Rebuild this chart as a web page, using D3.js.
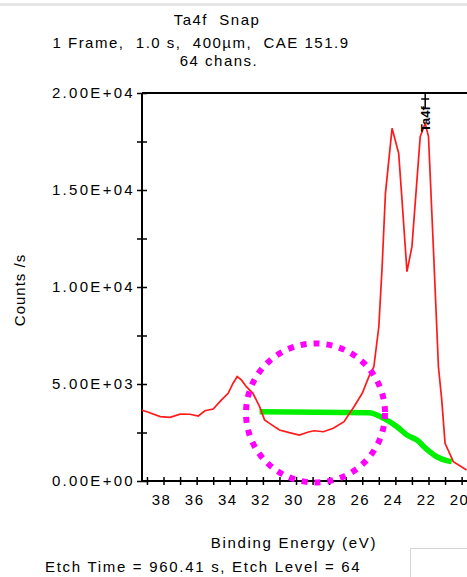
<!DOCTYPE html>
<html>
<head>
<meta charset="utf-8">
<script src="https://cdn.jsdelivr.net/npm/d3@7"></script>
<style>
  body { margin: 0; background: #fff; }
  text { font-family: "Liberation Sans", Arial, sans-serif; fill: #000; white-space: pre; }
</style>
</head>
<body>
<div id="chart"></div>
<script>
// spectrum (binding energy in eV, counts/s)
const energies = [39.3, 39.0, 38.2, 37.6, 37.0, 36.4, 35.9, 35.5, 35.0, 34.5, 34.1, 33.8, 33.55, 33.3, 33.0, 32.6, 32.2, 31.9, 31.6, 31.0, 30.4, 29.8, 29.2, 28.9, 28.35, 27.75, 27.1, 26.5, 26.0, 25.6, 25.3, 25.0, 24.8, 24.6, 24.2, 23.8, 23.6, 23.3, 23.0, 22.5, 22.2, 22.0, 21.7, 21.4, 21.2, 21.0, 20.5, 19.7];
const counts = [3650, 3570, 3320, 3280, 3450, 3440, 3350, 3620, 3710, 4180, 4520, 5040, 5380, 5210, 4860, 4520, 3830, 3150, 2970, 2630, 2490, 2370, 2540, 2590, 2540, 2720, 3060, 3830, 4520, 5380, 5890, 7950, 11050, 14830, 18180, 16890, 14490, 10790, 12080, 17750, 18440, 17750, 11910, 5890, 4180, 1940, 1000, 570];

// background (green)
const bgEnergies = [32.2, 25.6, 24.7, 23.9, 23.3, 22.7, 22.1, 21.5, 20.9, 20.6];
const bgCounts = [3570, 3520, 3230, 2800, 2370, 2110, 1630, 1250, 1050, 1000];

const xTicks = d3.range(20, 40);
const yTicks = d3.range(0, 20001, 2500);

const titleLines = ["Ta4f  Snap", "1 Frame,  1.0 s,  400µm,  CAE 151.9", "64 chans."];
const peakLabel = "Ta4f";
const peakEnergy = 22.2;

const W = 467, H = 577;
const svg = d3.select("#chart").append("svg").attr("width", W).attr("height", H);

const x = d3.scaleLinear().domain([39.3, 19.5]).range([142, 469.9]);
const y = d3.scaleLinear().domain([0, 20000]).range([481, 93]);

const fmtE = v => {
  const [m, e] = v.toExponential(2).split("e");
  const n = +e;
  return m + "E" + (n < 0 ? "-" : "+") + String(Math.abs(n)).padStart(2, "0");
};

// window top strip
svg.append("rect").attr("x", 0).attr("y", 3).attr("width", W).attr("height", 3).attr("fill", "#e6e6e6");

// titles
const titleX = [217, 201, 219], titleY = [25, 48, 66];
titleLines.forEach((t, i) => {
  svg.append("text").attr("x", titleX[i]).attr("y", titleY[i]).attr("text-anchor", "middle")
    .attr("font-size", 15).attr("letter-spacing", 1.5).text(t);
});

// frame top line
svg.append("line").attr("x1", 142).attr("x2", W).attr("y1", y(20000)).attr("y2", y(20000))
  .attr("stroke", "#000").attr("stroke-width", 2);

// x axis
const xAxis = svg.append("g").attr("transform", `translate(0,${y(0)})`)
  .call(d3.axisBottom(x).tickValues(xTicks).tickSize(4).tickFormat(d => d % 2 === 0 ? d : ""));
xAxis.select(".domain").attr("d", `M142,0H${W}`).attr("stroke-width", 2);
xAxis.selectAll(".tick line").attr("y1", -4).attr("y2", 4).attr("stroke-width", 1.5);
xAxis.selectAll(".tick text").attr("y", 13).attr("dx", -2.5).attr("font-size", 15).attr("letter-spacing", 1.5)
  .attr("font-family", "Liberation Sans, Arial, sans-serif");

// y axis
const yAxis = svg.append("g").attr("transform", "translate(142,0)")
  .call(d3.axisLeft(y).tickValues(yTicks).tickSize(5).tickFormat(d => d % 5000 === 0 ? fmtE(d) : ""));
yAxis.select(".domain").attr("d", `M0,${y(0)}V${y(20000)}`).attr("stroke-width", 2);
yAxis.selectAll(".tick line").attr("x1", -5).attr("x2", 5).attr("stroke-width", 1.5);
yAxis.selectAll(".tick text").attr("x", -7).attr("font-size", 15).attr("letter-spacing", 2.3)
  .attr("font-family", "Liberation Sans, Arial, sans-serif");

// axis titles
svg.append("text").attr("transform", "translate(25,290) rotate(-90)").attr("text-anchor", "middle")
  .attr("font-size", 15).attr("letter-spacing", 1).text("Counts /s");
svg.append("text").attr("x", 294).attr("y", 548).attr("text-anchor", "middle")
  .attr("font-size", 15).attr("letter-spacing", 1.7).text("Binding Energy (eV)");
svg.append("text").attr("x", 45).attr("y", 572)
  .attr("font-size", 15).attr("letter-spacing", 1.7).text("Etch Time = 960.41 s, Etch Level = 64");

// small box bottom right
svg.append("rect").attr("x", 410.5).attr("y", 548.5).attr("width", 70).attr("height", 40)
  .attr("fill", "#fff").attr("stroke", "#d4d4d4");

// background line
const bgLine = d3.line().x((d, i) => x(bgEnergies[i])).y((d, i) => y(bgCounts[i])).curve(d3.curveMonotoneX);
svg.append("path").datum(bgCounts).attr("d", bgLine).attr("fill", "none")
  .attr("stroke", "#00f000").attr("stroke-width", 5.5).attr("stroke-linejoin", "round");

// spectrum line
const line = d3.line().x((d, i) => x(energies[i])).y((d, i) => y(counts[i]));
svg.append("path").datum(counts).attr("d", line).attr("fill", "none")
  .attr("stroke", "#ff1a1a").attr("stroke-width", 1.7);

// peak marker
const px = x(peakEnergy);
svg.append("line").attr("x1", px).attr("x2", px).attr("y1", y(20000)).attr("y2", y(20000) + 16)
  .attr("stroke", "#000").attr("stroke-width", 1.5);
svg.append("line").attr("x1", px - 4).attr("x2", px + 4).attr("y1", y(20000) + 6).attr("y2", y(20000) + 6)
  .attr("stroke", "#000").attr("stroke-width", 1.5);
svg.append("text").attr("transform", `translate(${px + 5},132) rotate(-90)`)
  .attr("font-size", 13).attr("font-weight", "bold").text(peakLabel);

// magenta highlight circle
svg.append("circle").attr("cx", 315.5).attr("cy", 413).attr("r", 69.5)
  .attr("fill", "none").attr("stroke", "#ff00ff").attr("stroke-width", 6).attr("stroke-dasharray", "6,7");
</script>
</body>
</html>
